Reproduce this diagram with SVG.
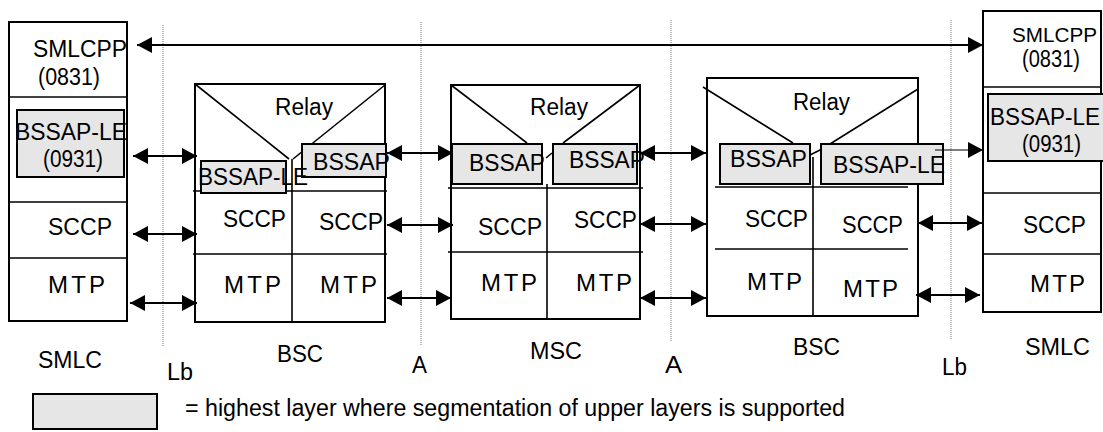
<svg xmlns="http://www.w3.org/2000/svg" width="1103" height="432" viewBox="0 0 1103 432">
<style>
text{font-family:"Liberation Sans",Arial,sans-serif;font-size:23px;fill:#000}
text.m{font-size:24px}
text.s{font-size:21px}
.box{fill:#fff;stroke:#000;stroke-width:2}
.sh{fill:#e6e6e6;stroke:#000;stroke-width:2}
.ln{stroke:#000;stroke-width:1.6;fill:none}
.dot{stroke:#777;stroke-width:1;stroke-dasharray:1 1;fill:none}
.arr{stroke:#000;stroke-width:2;fill:none;marker-start:url(#ah);marker-end:url(#ah)}
</style>
<defs>
<marker id="ah" viewBox="0 0 15 16" refX="15" refY="8" markerWidth="15" markerHeight="16" markerUnits="userSpaceOnUse" orient="auto-start-reverse"><path d="M0,0 L15,8 L0,16 z" fill="#000"/></marker>
</defs>
<rect width="1103" height="432" fill="#fff"/>
<g id="interfaces">
<line class="dot" x1="163" y1="25" x2="163" y2="347"/>
<line class="dot" x1="421" y1="22" x2="421" y2="345"/>
<line class="dot" x1="671" y1="20" x2="671" y2="342"/>
<line class="dot" x1="951" y1="20" x2="951" y2="340"/>
</g>
<g id="smlc-left">
<rect class="box" x="9" y="22" width="118" height="299"/>
<line class="ln" x1="9" y1="97" x2="127" y2="97"/>
<line class="ln" x1="9" y1="202" x2="127" y2="202"/>
<line class="ln" x1="9" y1="258" x2="127" y2="258"/>
<rect class="sh" x="17" y="110" width="107" height="67"/>
<text x="33" y="57" textLength="94" lengthAdjust="spacingAndGlyphs">SMLCPP</text>
<text x="38" y="85" textLength="62" lengthAdjust="spacingAndGlyphs">(0831)</text>
<text x="15" y="140" textLength="112" lengthAdjust="spacingAndGlyphs">BSSAP-LE</text>
<text x="43" y="167" textLength="60" lengthAdjust="spacingAndGlyphs">(0931)</text>
<text x="48" y="235" textLength="64" lengthAdjust="spacingAndGlyphs">SCCP</text>
<text class="m" x="48" y="293" textLength="57">MTP</text>
</g>
<g id="bsc-left">
<rect class="box" x="195" y="84" width="190" height="238"/>
<line class="ln" x1="195" y1="84" x2="289" y2="159"/>
<line class="ln" x1="385" y1="85" x2="293" y2="159"/>
<line class="ln" x1="292" y1="159" x2="292" y2="322"/>
<line class="ln" x1="193" y1="191" x2="387" y2="191"/>
<line class="ln" x1="193" y1="254" x2="387" y2="254"/>
<rect class="sh" x="201" y="161" width="85" height="32"/>
<rect class="sh" x="302" y="144" width="84" height="33"/>
<text x="275" y="115" textLength="58" lengthAdjust="spacingAndGlyphs">Relay</text>
<text x="198" y="185" textLength="110" lengthAdjust="spacingAndGlyphs">BSSAP-LE</text>
<text x="313" y="170" textLength="77" lengthAdjust="spacingAndGlyphs">BSSAP</text>
<text x="223" y="227" textLength="63" lengthAdjust="spacingAndGlyphs">SCCP</text>
<text x="319" y="230" textLength="64" lengthAdjust="spacingAndGlyphs">SCCP</text>
<text class="m" x="224" y="293" textLength="57">MTP</text>
<text class="m" x="320" y="293" textLength="57">MTP</text>
</g>
<g id="msc">
<rect class="box" x="451" y="85" width="189" height="234"/>
<line class="ln" x1="451" y1="85" x2="527" y2="143"/>
<line class="ln" x1="640" y1="85" x2="563" y2="143"/>
<line class="ln" x1="546" y1="158" x2="552" y2="153"/>
<line class="ln" x1="547" y1="184" x2="547" y2="319"/>
<line class="ln" x1="448" y1="188" x2="643" y2="188"/>
<line class="ln" x1="448" y1="252" x2="643" y2="252"/>
<rect class="sh" x="452" y="144" width="90" height="40"/>
<rect class="sh" x="553" y="144" width="84" height="40"/>
<text x="530" y="115" textLength="58" lengthAdjust="spacingAndGlyphs">Relay</text>
<text x="469" y="171" textLength="76" lengthAdjust="spacingAndGlyphs">BSSAP</text>
<text x="569" y="168" textLength="76" lengthAdjust="spacingAndGlyphs">BSSAP</text>
<text x="478" y="235" textLength="64" lengthAdjust="spacingAndGlyphs">SCCP</text>
<text x="574" y="228" textLength="63" lengthAdjust="spacingAndGlyphs">SCCP</text>
<text class="m" x="481" y="291" textLength="56">MTP</text>
<text class="m" x="576" y="291" textLength="56">MTP</text>
</g>
<g id="bsc-right">
<rect class="box" x="707" y="78" width="211" height="238"/>
<line class="ln" x1="703" y1="87" x2="793" y2="143"/>
<line class="ln" x1="918" y1="89" x2="830" y2="144"/>
<line class="ln" x1="810" y1="155" x2="822" y2="149"/>
<line class="ln" x1="813" y1="157" x2="813" y2="316"/>
<line class="ln" x1="715" y1="187" x2="908" y2="187"/>
<line class="ln" x1="715" y1="249" x2="908" y2="249"/>
<rect class="sh" x="720" y="144" width="90" height="40"/>
<rect class="sh" x="821" y="144" width="122" height="40"/>
<text x="793" y="110" textLength="57" lengthAdjust="spacingAndGlyphs">Relay</text>
<text x="730" y="167" textLength="77" lengthAdjust="spacingAndGlyphs">BSSAP</text>
<text x="833" y="173" textLength="112" lengthAdjust="spacingAndGlyphs">BSSAP-LE</text>
<text x="745" y="227" textLength="63" lengthAdjust="spacingAndGlyphs">SCCP</text>
<text x="842" y="233" textLength="61" lengthAdjust="spacingAndGlyphs">SCCP</text>
<text class="m" x="747" y="290" textLength="55">MTP</text>
<text class="m" x="843" y="297" textLength="55">MTP</text>
</g>
<g id="smlc-right">
<rect class="box" x="983" y="11" width="118" height="301"/>
<line class="ln" x1="983" y1="87" x2="1101" y2="87"/>
<line class="ln" x1="983" y1="193" x2="1101" y2="193"/>
<line class="ln" x1="983" y1="254" x2="1101" y2="254"/>
<rect class="sh" x="988" y="94" width="120" height="67"/>
<text class="s" x="1012" y="42" textLength="85" lengthAdjust="spacingAndGlyphs">SMLCPP</text>
<text x="1022" y="67" textLength="58" lengthAdjust="spacingAndGlyphs">(0831)</text>
<text x="990" y="125" textLength="110" lengthAdjust="spacingAndGlyphs">BSSAP-LE</text>
<text x="1022" y="152" textLength="59" lengthAdjust="spacingAndGlyphs">(0931)</text>
<text x="1023" y="233" textLength="63" lengthAdjust="spacingAndGlyphs">SCCP</text>
<text class="m" x="1030" y="292" textLength="55">MTP</text>
</g>
<g id="connectors">
<line class="arr" x1="137" y1="45" x2="983" y2="45"/>
<line class="arr" x1="133" y1="156" x2="197" y2="156"/>
<line class="arr" x1="133" y1="234" x2="197" y2="234"/>
<line class="arr" x1="130" y1="303" x2="197" y2="303"/>
<line class="arr" x1="387" y1="153" x2="453" y2="153"/>
<line class="arr" x1="387" y1="225" x2="453" y2="225"/>
<line class="arr" x1="387" y1="298" x2="451" y2="298"/>
<line class="arr" x1="640" y1="153" x2="706" y2="153"/>
<line class="arr" x1="640" y1="224" x2="706" y2="224"/>
<line class="arr" x1="640" y1="298" x2="706" y2="298"/>
<line x1="935" y1="150" x2="983" y2="150" stroke="#000" stroke-width="1.2" marker-end="url(#ah)"/>
<line class="arr" x1="918" y1="223" x2="982" y2="223"/>
<line class="arr" x1="916" y1="295" x2="980" y2="295"/>
</g>
<g id="labels">
<text x="38" y="368" textLength="64" lengthAdjust="spacingAndGlyphs">SMLC</text>
<text x="167" y="380" textLength="26" lengthAdjust="spacingAndGlyphs">Lb</text>
<text x="277" y="362" textLength="46" lengthAdjust="spacingAndGlyphs">BSC</text>
<text x="412" y="373" textLength="15" lengthAdjust="spacingAndGlyphs">A</text>
<text x="530" y="359" textLength="52" lengthAdjust="spacingAndGlyphs">MSC</text>
<text x="665" y="373" textLength="17" lengthAdjust="spacingAndGlyphs">A</text>
<text x="793" y="355" textLength="47" lengthAdjust="spacingAndGlyphs">BSC</text>
<text x="942" y="375" textLength="25" lengthAdjust="spacingAndGlyphs">Lb</text>
<text x="1025" y="355" textLength="65" lengthAdjust="spacingAndGlyphs">SMLC</text>
</g>
<g id="legend">
<rect class="sh" x="33" y="394" width="124" height="35"/>
<text x="185" y="416" textLength="660" lengthAdjust="spacingAndGlyphs">= highest layer where segmentation of upper layers  is supported</text>
</g>
</svg>
